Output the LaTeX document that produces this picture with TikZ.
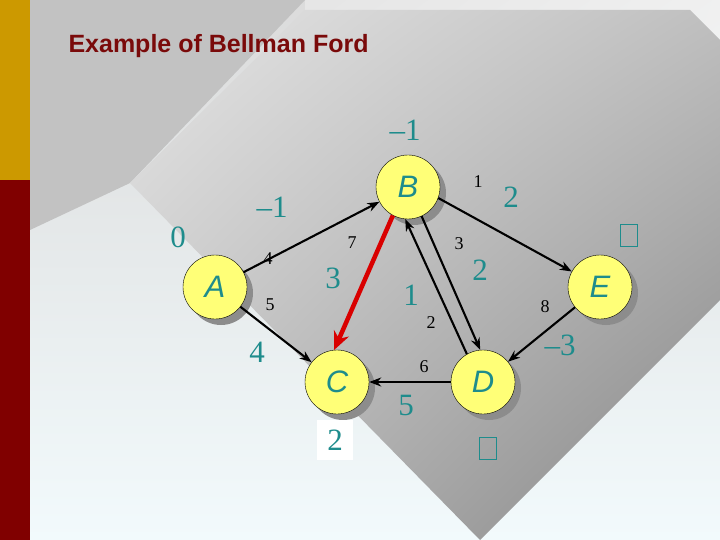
\documentclass[tikz,border=0pt]{standalone}
\usepackage{fontspec}
\setmainfont{Liberation Serif}
\newfontfamily\arial{Liberation Sans}
\usetikzlibrary{arrows.meta,shadings}
\definecolor{teal2}{HTML}{1E8C8C}
\definecolor{gold}{HTML}{CC9900}
\definecolor{dred}{HTML}{800000}
\definecolor{ttl}{HTML}{7A0A0A}
\definecolor{ylw}{HTML}{FFFF77}
\definecolor{bgw}{HTML}{F2FAFC}
\begin{document}
\begin{tikzpicture}[x=1pt,y=-1pt,
  vert/.style={circle,draw=black,fill=ylw,minimum size=64pt,inner sep=0pt,font=\arial\itshape\fontsize{31}{31}\selectfont,text=teal2},
  shad/.style={circle,fill=black!45,minimum size=64pt,inner sep=0pt},
  dist/.style={text=teal2,font=\fontsize{31}{31}\selectfont,inner sep=1pt},
  wt/.style={font=\fontsize{18}{18}\selectfont,inner sep=1pt},
  edge/.style={draw=black,line width=2.1pt,-{Stealth[length=12pt,width=9pt]}},
  emptybox/.style={draw=teal2,line width=0.8pt,minimum width=17pt,minimum height=22pt,inner sep=0pt}]
\useasboundingbox (0,0) rectangle (720,540);
\shade[top color=black!14,bottom color=bgw] (30,0) rectangle (720,540);
\shade[upper left=black!10,upper right=black!6,lower left=black!6,lower right=bgw] (305,0) rectangle (720,300);
\fill[black!24] (30,0) -- (305,0) -- (130,183) -- (30,230) -- cycle;
\shade[upper left=black!10,upper right=black!25,lower left=black!25,lower right=black!48] (305,10) -- (690,10) -- (720,40) -- (720,300) -- (480,540) -- (130,183) -- cycle;
\fill[gold] (0,0) rectangle (30,180);
\fill[dred] (0,180) rectangle (30,540);
\node[anchor=west,text=ttl,font=\arial\bfseries\fontsize{25}{25}\selectfont] (title) at (65,46) {Example of Bellman Ford};
\foreach \n/\x/\y in {A/215/287,B/408/187,C/337/382,D/483/382,E/600/287}
  \node[shad] (s\n) at (\x+6,\y+6) {};
\node[vert] (A) at (215,287) {A};
\node[vert] (B) at (408,187) {B};
\node[vert] (C) at (337,382) {C};
\node[vert] (D) at (483,382) {D};
\node[vert] (E) at (600,287) {E};
\draw[edge] (A) -- (B);
\draw[edge] (A) -- (C);
\draw[edge] (B.-20) -- (E);
\draw[edge] (B.-65) -- (D.95);
\draw[edge] (D.120) -- (B.-95);
\draw[edge] (E) -- (D);
\draw[edge] (D) -- (C);
\draw[draw=red!85!black,line width=4.5pt,-{Stealth[length=18pt,width=16pt]}] (B.-118) -- (C.95);
\node[dist] (dB) at (405,130) {–1};
\node[dist] (dA) at (178,237) {0};
\node[dist] (dAB) at (272,207) {–1};
\node[dist] (dBC) at (333,278) {3};
\node[dist] (dDB) at (411,295) {1};
\node[dist] (dBD) at (480,270) {2};
\node[dist] (dBE) at (511,197) {2};
\node[emptybox] (dE) at (629,235) {};
\node[dist] (dED) at (560,345) {–3};
\node[dist] (dAC) at (257,352) {4};
\node[dist] (dDC) at (406,405) {5};
\node[dist,fill=white,minimum width=36pt,minimum height=40pt] (dC) at (335,440) {2};
\node[emptybox] (dD) at (488,448) {};
\node[wt] (w1) at (268,259) {4};
\node[wt] (w2) at (270,305) {5};
\node[wt] (w3) at (352,243) {7};
\node[wt] (w4) at (478,182) {1};
\node[wt] (w5) at (459,244) {3};
\node[wt] (w6) at (431,323) {2};
\node[wt] (w7) at (545,307) {8};
\node[wt] (w8) at (424,367) {6};
\end{tikzpicture}
\end{document}
